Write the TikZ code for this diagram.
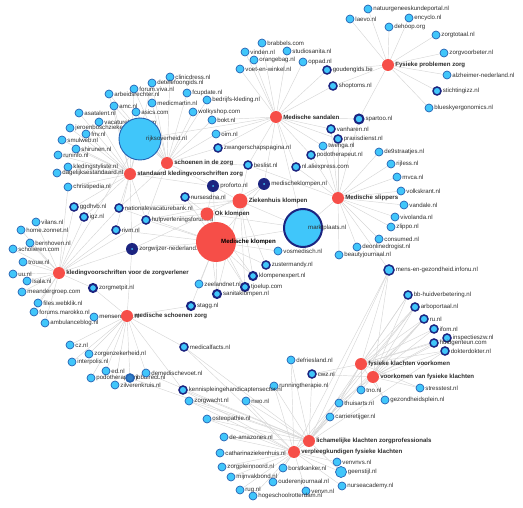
\documentclass[tikz,border=0pt]{standalone}
\usepackage{fontspec}
\newfontfamily\arialfont{Liberation Sans}
\usetikzlibrary{positioning}
\pgfdeclarelayer{bg}
\pgfsetlayers{bg,main}
\definecolor{siteblue}{RGB}{64,198,250}
\definecolor{siteedge}{RGB}{38,98,178}
\definecolor{navy}{RGB}{28,36,128}
\definecolor{hubred}{RGB}{246,78,72}
\definecolor{linkgray}{RGB}{214,214,214}
\definecolor{labelgray}{RGB}{45,45,45}
\newcommand{\sitefont}{\arialfont\fontsize{6.1}{7}\selectfont}
\newcommand{\hubfont}{\arialfont\bfseries\fontsize{6.1}{7}\selectfont}

\begin{document}
\begin{tikzpicture}[x=1pt,y=-1pt]
        \tikzset{
            site/.style={circle, fill=siteblue, draw=siteedge, line width=0.7pt, minimum size=8pt, inner sep=0pt},
            dsite/.style={site, draw=navy, line width=1.5pt},
            vdsite/.style={circle, fill=navy, minimum size=12pt, inner sep=0pt,
                path picture={\fill[siteblue] (path picture bounding box.center) circle (1pt);}},
            hub/.style={circle, fill=hubred, minimum size=12pt, inner sep=0pt},
            link/.style={draw=linkgray, line width=0.45pt},
            every label/.style={font=\sitefont, text=labelgray, inner sep=0.6pt},
            label distance=0.3pt
        }
        \useasboundingbox (0,0) rectangle (523,508);
        % sites, upper left
        \node[site, label={right:clinicdress.nl}] (clinic) at (170,77) {};
        \node[site, label={right:detelefoongids.nl}] (telef) at (152,83) {};
        \node[site, label={right:forum.viva.nl}] (viva) at (134,89) {};
        \node[site, label={right:arbeidsrechter.nl}] (arbeid) at (109,94) {};
        \node[site, label={right:medicmartin.nl}] (martin) at (152,103) {};
        \node[site, label={right:amc.nl}] (amc) at (114,106) {};
        \node[site, label={right:asics.com}] (asics) at (136,112) {};
        \node[site, label={right:asatalent.nl}] (asat) at (79,113) {};
        \node[site, label={right:vacaturebeurs.com}] (vacb) at (99,122) {};
        \node[site, label={right:jeroenboschziekenhuis.nl}] (jbz) at (70,128) {};
        \node[site, label={right:fnv.nl}] (fnv) at (86,134) {};
        \node[site, label={right:smulweb.nl}] (smul) at (62,140) {};
        \node[site, label={right:shirunen.nl}] (shir) at (76,149) {};
        \node[site, label={right:runinfo.nl}] (runinfo) at (58,155) {};
        \node[site, label={right:kledingstyliste.nl}] (styl) at (68,167) {};
        \node[site, label={right:dagelijksestandaard.nl}] (dagel) at (57,173) {};
        \node[site, label={right:christipedia.nl}] (christ) at (68,187) {};
        % sites, top middle
        \node[site, label={right:brabbels.com}] (brab) at (262,43) {};
        \node[site, label={right:vinden.nl}] (vinden) at (245,52) {};
        \node[site, label={right:studiosanita.nl}] (sanita) at (287,51) {};
        \node[site, label={right:orangebag.nl}] (orange) at (254,60) {};
        \node[site, label={right:oppad.nl}] (oppad) at (303,62) {};
        \node[site, label={right:voet-en-winkel.nl}] (voet) at (240,69) {};
        \node[dsite, label={right:goudengids.be}] (gouden) at (327,70) {};
        \node[dsite, label={right:shoptoms.nl}] (shoptoms) at (333,86) {};
        \node[site, label={right:fcupdate.nl}] (fcup) at (187,93) {};
        \node[site, label={right:bedrijfs-kleding.nl}] (bedrijfs) at (207,100) {};
        \node[site, label={right:wolkyshop.com}] (wolky) at (193,112) {};
        \node[site, label={right:bokt.nl}] (bokt) at (212,120) {};
        \node[site, label={right:oim.nl}] (oim) at (216,134) {};
        \node[dsite, label={right:zwangerschapspagina.nl}] (zwanger) at (218,148) {};
        \node[dsite, label={right:beslist.nl}] (beslist) at (248,165) {};
        \node[dsite, label={right:nl.aliexpress.com}] (ali) at (296,167) {};
        \node[dsite, label={right:vanharen.nl}] (vanharen) at (331,129) {};
        \node[dsite, label={right:praxisdienst.nl}] (praxis) at (338,139) {};
        \node[site, label={right:twenga.nl}] (twenga) at (323,146) {};
        \node[dsite, label={right:podotherapeut.nl}] (podo) at (311,155) {};
        \node[dsite, line width=2pt, minimum size=9pt, label={right:spartoo.nl}] (spartoo) at (359,119) {};
        % sites, upper right
        \node[site, label={right:natuurgeneeskundeportal.nl}] (natuur) at (368,9) {};
        \node[site, label={right:laevo.nl}] (laevo) at (350,19) {};
        \node[site, label={right:encyclo.nl}] (encyclo) at (409,18) {};
        \node[site, label={right:dehoop.org}] (dehoop) at (389,27) {};
        \node[site, label={right:zorgtotaal.nl}] (zorgtot) at (436,35) {};
        \node[site, label={right:zorgvoorbeter.nl}] (zorgvb) at (444,53) {};
        \node[site, label={right:alzheimer-nederland.nl}] (alz) at (447,75) {};
        \node[dsite, label={right:stichtingizz.nl}] (izz) at (437,91) {};
        \node[site, label={right:blueskyergonomics.nl}] (bluesky) at (429,108) {};
        \node[site, label={right:de9straatjes.nl}] (de9) at (379,152) {};
        \node[site, label={right:rijless.nl}] (rijless) at (391,164) {};
        \node[site, label={right:mvca.nl}] (mvca) at (397,177) {};
        \node[site, label={right:volkskrant.nl}] (volks) at (401,191) {};
        \node[site, label={right:vandale.nl}] (vandale) at (404,205) {};
        \node[site, label={right:vivolanda.nl}] (vivo) at (395,217) {};
        \node[site, label={right:zlippo.nl}] (zlippo) at (391,227) {};
        \node[site, label={right:consumed.nl}] (consumed) at (379,239) {};
        \node[site, label={right:deonlinedrogist.nl}] (drogist) at (357,247) {};
        \node[site, label={right:beautyjournaal.nl}] (beauty) at (339,255) {};
        \node[dsite, minimum size=10pt, label={right:mens-en-gezondheid.infonu.nl}] (infonu) at (389,270) {};
        % sites, lower right
        \node[dsite, label={right:bb-huidverbetering.nl}] (bbhuid) at (408,295) {};
        \node[dsite, label={right:arboportaal.nl}] (arbo) at (415,307) {};
        \node[dsite, label={right:ru.nl}] (ru) at (424,319) {};
        \node[dsite, label={right:ifom.nl}] (ifom) at (434,329) {};
        \node[dsite, label={right:inspectieszw.nl}] (inspectie) at (447,338) {};
        \node[dsite, label={right:huidgenteun.com}] (huidgen) at (434,343) {};
        \node[dsite, label={right:dokterdokter.nl}] (dokter) at (445,351) {};
        \node[site, label={right:tno.nl}] (tno) at (361,390) {};
        \node[site, label={right:stresstest.nl}] (stress) at (420,388) {};
        \node[site, label={right:thuisarts.nl}] (thuis) at (339,403) {};
        \node[site, label={right:gezondheidsplein.nl}] (gezond) at (385,400) {};
        \node[site, label={right:carrieretijger.nl}] (carriere) at (330,417) {};
        \node[dsite, label={right:cwz.nl}] (cwz) at (312,374) {};
        \node[site, label={right:defriesland.nl}] (defries) at (291,360) {};
        \node[site, label={right:runningtherapie.nl}] (running) at (274,386) {};
        % sites, bottom
        \node[dsite, label={right:medicalfacts.nl}] (medfacts) at (184,347) {};
        \node[dsite, label={right:kennispleingehandicaptensector.nl}] (kennis) at (183,390) {};
        \node[site, label={right:zorgwacht.nl}] (zorgwacht) at (189,401) {};
        \node[site, label={right:nwo.nl}] (nwo) at (246,401) {};
        \node[site, label={right:osteopathie.nl}] (osteo) at (207,419) {};
        \node[site, label={right:de-amazones.nl}] (amazones) at (224,437) {};
        \node[site, label={right:catharinaziekenhuis.nl}] (catharina) at (220,453) {};
        \node[site, label={right:zorgpleinnoord.nl}] (zorgplein) at (222,467) {};
        \node[site, label={right:borstkanker.nl}] (borst) at (283,468) {};
        \node[site, label={right:mijnvakbond.nl}] (vakbond) at (231,477) {};
        \node[site, label={right:ouderenjournaal.nl}] (ouderen) at (273,482) {};
        \node[site, label={right:rug.nl}] (rug) at (240,490) {};
        \node[site, label={right:venvn.nl}] (venvn) at (306,491) {};
        \node[site, label={right:hogeschoolrotterdam.nl}] (hsr) at (253,496) {};
        \node[site, label={right:venvnvs.nl}] (venvnvs) at (337,462) {};
        \node[site, minimum size=11pt, label={right:geenstijl.nl}] (geenstijl) at (341,472) {};
        \node[site, label={right:nurseacademy.nl}] (nurse) at (342,486) {};
        % sites, lower left
        \node[site, label={right:cz.nl}] (cz) at (70,345) {};
        \node[site, label={right:zorgenzekerheid.nl}] (zekerheid) at (89,354) {};
        \node[site, label={right:interpolis.nl}] (interpolis) at (72,362) {};
        \node[site, label={right:ed.nl}] (ed) at (106,371) {};
        \node[site, label={right:podotherapie.nl}] (podoth) at (91,378) {};
        \node[dsite, draw=siteedge, fill=siteedge!70!siteblue, label={right:jobdirect.nl}] (jobdirect) at (130,378) {};
        \node[site, label={right:zilverenkruis.nl}] (zilver) at (115,385) {};
        \node[site, label={right:demedischevoet.nl}] (medvoet) at (146,373) {};
        % sites, left
        \node[dsite, label={right:ggdhvb.nl}] (ggd) at (74,207) {};
        \node[dsite, label={right:igz.nl}] (igz) at (84,217) {};
        \node[dsite, label={right:nationalevacaturebank.nl}] (nvb) at (119,208) {};
        \node[dsite, label={right:hulpverleningsforum.nl}] (hulpv) at (146,220) {};
        \node[dsite, label={right:rivm.nl}] (rivm) at (116,230) {};
        \node[vdsite, label={right:zorgwijzer-nederland.nl}] (zwijzer) at (132,249) {};
        \node[site, label={right:vilans.nl}] (vilans) at (36,222) {};
        \node[site, label={right:home.zonnet.nl}] (zonnet) at (21,230) {};
        \node[site, label={right:bernhoven.nl}] (bernhoven) at (30,243) {};
        \node[site, label={right:scholieren.com}] (scholieren) at (13,249) {};
        \node[site, label={right:trouw.nl}] (trouw) at (23,262) {};
        \node[site, label={right:uu.nl}] (uu) at (13,274) {};
        \node[site, label={right:isala.nl}] (isala) at (27,281) {};
        \node[dsite, line width=2pt, label={right:zorgmetpit.nl}] (zmetpit) at (93,288) {};
        \node[site, label={right:meandergroep.com}] (meander) at (22,292) {};
        \node[site, label={right:files.webklik.nl}] (webklik) at (38,303) {};
        \node[site, label={right:forums.marokko.nl}] (marokko) at (34,312) {};
        \node[site, label={right:ambulanceblog.nl}] (ambu) at (45,323) {};
        \node[site, label={right:mensenzorg.nl}] (mensen) at (94,317) {};
        % sites, centre
        \node[vdsite, label={right:proforto.nl}] (proforto) at (213,186) {};
        \node[vdsite, label={right:medischeklompen.nl}] (medklomp) at (264,184) {};
        \node[dsite, label={right:nursesdna.nl}] (nursesdna) at (185,197) {};
        \node[site, label={right:vosmedisch.nl}] (vosmed) at (278,251) {};
        \node[dsite, label={right:zustermandy.nl}] (zuster) at (266,265) {};
        \node[dsite, line width=2pt, label={right:klompenexpert.nl}] (kexpert) at (253,276) {};
        \node[site, label={right:zeelandnet.nl}] (zeeland) at (199,284) {};
        \node[dsite, line width=2pt, label={right:tjoelup.com}] (tjoelup) at (245,287) {};
        \node[dsite, line width=2pt, label={right:sanitaklompen.nl}] (sanitak) at (217,294) {};
        \node[dsite, line width=2pt, label={right:stagg.nl}] (stagg) at (191,306) {};
        % big sites
        \node[site, line width=0.9pt, minimum size=42pt] (rijks) at (140,139) {};
        \node[font=\sitefont, text=labelgray, anchor=west, inner sep=0pt] (rijkslbl) at (146,139) {rijksoverheid.nl};
        \node[site, draw=navy, line width=2pt, minimum size=38pt] (markt) at (303,228) {};
        \node[font=\sitefont, text=labelgray, anchor=west, inner sep=0pt] (marktlbl) at (308,228) {marktplaats.nl};
        % hubs
        \node[hub, label={[font=\hubfont]right:schoenen in de zorg}] (hSchoen) at (167,163) {};
        \node[hub, label={[font=\hubfont]right:standaard kledingvoorschriften zorg}] (hStand) at (130,174) {};
        \node[hub, label={[font=\hubfont]right:Medische sandalen}] (hSand) at (276,117) {};
        \node[hub, label={[font=\hubfont]right:Fysieke problemen zorg}] (hFys) at (388,65) {};
        \node[hub, label={[font=\hubfont]right:Medische slippers}] (hSlip) at (338,198) {};
        \node[hub, minimum size=15pt, label={[font=\hubfont]right:Ziekenhuis klompen}] (hZiek) at (240,201) {};
        \node[hub, minimum size=13pt, label={[font=\hubfont]right:Ok klompen}] (hOk) at (207,214) {};
        \node[hub, minimum size=40pt] (hMedK) at (216,242) {};
        \node[font=\hubfont, anchor=west, inner sep=0pt] (hMedKlbl) at (221,242) {Medische klompen};
        \node[hub, label={[font=\hubfont]right:kledingvoorschriften voor de zorgverlener}] (hKled) at (59,273) {};
        \node[hub, label={[font=\hubfont]right:medische schoenen zorg}] (hMSchoen) at (127,316) {};
        \node[hub, label={[font=\hubfont]right:fysieke klachten voorkomen}] (hFkv) at (361,364) {};
        \node[hub, label={[font=\hubfont]right:voorkomen van fysieke klachten}] (hVfk) at (373,377) {};
        \node[hub, label={[font=\hubfont]right:lichamelijke klachten zorgprofessionals}] (hLich) at (309,441) {};
        \node[hub, label={[font=\hubfont]right:verpleegkundigen fysieke klachten}] (hVerp) at (294,452) {};
        % connectors
        \begin{pgfonlayer}{bg}
        \foreach \s in {natuur,laevo,encyclo,dehoop,zorgtot,zorgvb,alz,izz,bluesky,gouden,shoptoms,spartoo}
            \draw[link] (hFys) -- (\s);
        \foreach \s in {brab,vinden,sanita,orange,oppad,voet,gouden,shoptoms,spartoo,vanharen,praxis,twenga,podo,ali,beslist,zwanger,medklomp,markt,rijks,bokt,oim}
            \draw[link] (hSand) -- (\s);
        \foreach \s in {de9,rijless,mvca,volks,vandale,vivo,zlippo,consumed,drogist,beauty,spartoo,vanharen,praxis,twenga,podo,ali,beslist,markt,infonu}
            \draw[link] (hSlip) -- (\s);
        \foreach \s in {clinic,telef,viva,martin,fcup,bedrijfs,wolky,bokt,oim,asics,amc,zwanger,proforto,rijks,arbeid,beslist,hulpv,nvb}
            \draw[link] (hSchoen) -- (\s);
        \foreach \s in {asat,vacb,jbz,fnv,smul,shir,runinfo,styl,dagel,christ,rijks,arbeid,amc,ggd,igz,nvb,hulpv,rivm,zwijzer,proforto,viva,telef}
            \draw[link] (hStand) -- (\s);
        \foreach \s in {vilans,zonnet,bernhoven,scholieren,trouw,uu,isala,meander,webklik,marokko,ambu,ggd,igz,rivm,nvb,zmetpit,zwijzer,rijks,hulpv,christ}
            \draw[link] (hKled) -- (\s);
        \foreach \s in {cz,zekerheid,interpolis,ed,podoth,jobdirect,zilver,medvoet,mensen,zmetpit,zwijzer,stagg,medfacts,kennis}
            \draw[link] (hMSchoen) -- (\s);
        \foreach \s in {medklomp,proforto,markt,nursesdna,kexpert,tjoelup,sanitak,zuster,beslist,hulpv,nvb}
            \draw[link] (hZiek) -- (\s);
        \foreach \s in {proforto,medklomp,markt,sanitak,kexpert,tjoelup,hulpv,nursesdna,zwijzer}
            \draw[link] (hOk) -- (\s);
        \foreach \s in {zeeland,sanitak,tjoelup,kexpert,zuster,vosmed,markt,medklomp,proforto,zwijzer,stagg,nursesdna,hulpv,rivm,nvb}
            \draw[link] (hMedK) -- (\s);
        \foreach \s in {bbhuid,arbo,ru,ifom,inspectie,huidgen,dokter,tno,stress,thuis,gezond,infonu,cwz,carriere}
            \draw[link] (hFkv) -- (\s);
        \foreach \s in {bbhuid,arbo,ru,ifom,inspectie,huidgen,dokter,tno,stress,thuis,gezond,infonu,cwz}
            \draw[link] (hVfk) -- (\s);
        \foreach \s in {medfacts,kennis,zorgwacht,nwo,osteo,amazones,running,defries,cwz,carriere,thuis,infonu,arbo,bbhuid,ru,geenstijl,medvoet,jobdirect}
            \draw[link] (hLich) -- (\s);
        \foreach \s in {catharina,zorgplein,borst,vakbond,ouderen,rug,venvn,hsr,venvnvs,geenstijl,nurse,medfacts,kennis,zorgwacht,nwo,osteo,amazones,running,defries,infonu,arbo,ru,dokter}
            \draw[link] (hVerp) -- (\s);
        \end{pgfonlayer}
    \end{tikzpicture}
\end{document}
